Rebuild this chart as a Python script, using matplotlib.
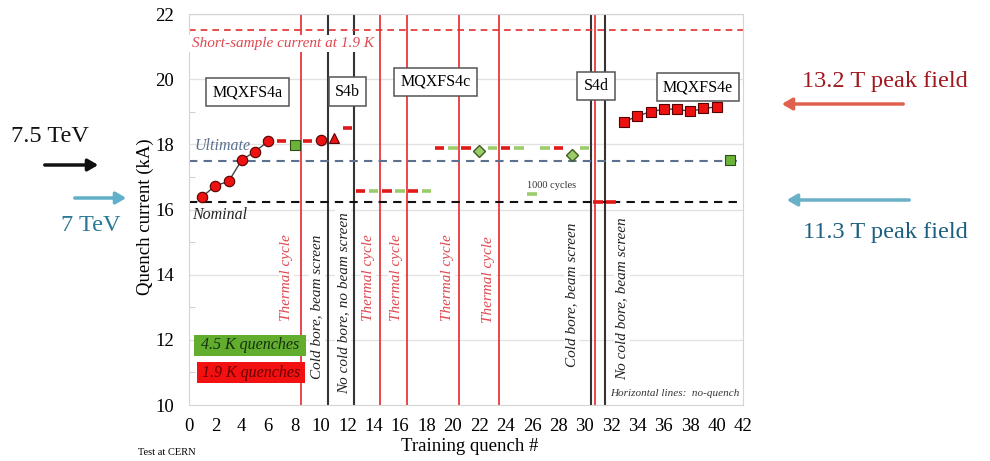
import numpy as np
import matplotlib
matplotlib.use("Agg")
import matplotlib.pyplot as plt
from matplotlib.patches import Rectangle, FancyArrowPatch

plt.rcParams['font.family'] = ['Liberation Serif', 'DejaVu Serif']

################## Data ##################

# MQXFS4a training at 1.9 K (connected circles)
s4a_x = [1, 2, 3, 4, 5, 6]
s4a_y = [16.39, 16.73, 16.86, 17.52, 17.78, 18.09]

# MQXFS4e training at 1.9 K (connected squares)
s4e_x = [33, 34, 35, 36, 37, 38, 39, 40]
s4e_y = [18.69, 18.87, 19.00, 19.08, 19.08, 19.01, 19.10, 19.15]

# single quenches
circ_x, circ_y = [10], [18.13]
tri_x, tri_y = [11], [18.20]
sq45_x, sq45_y = [8, 41], [17.98, 17.52]
dia45_x, dia45_y = [22, 29], [17.80, 17.68]

# no-quench ramps (horizontal dashes)
nq19_x = [7, 9, 12, 13, 15, 17, 19, 21, 24, 28, 31, 32]
nq19_y = [18.09, 18.09, 18.50, 16.56, 16.56, 16.56, 17.88, 17.88, 17.88, 17.88, 16.24, 16.24]
nq45_x = [14, 16, 18, 20, 23, 25, 26, 27, 30]
nq45_y = [16.56, 16.56, 16.56, 17.88, 17.88, 17.88, 16.47, 17.88, 17.88]

# reference currents
short_sample = 21.5
ultimate = 17.5
nominal = 16.23

# events between quenches
thermal_x = [8.5, 14.5, 16.5, 20.5, 23.5, 30.8]
config_x = [10.5, 12.5, 30.5, 31.5]

################## Plot ##################

fig = plt.figure(figsize=(9.9, 4.61), dpi=100)
ax = fig.add_axes([189/990, 56/461, 554/990, 391/461])
ax.set_xlim(0, 42)
ax.set_ylim(10, 22)

RED = '#ee1111'
GREEN = '#6cb33a'
LRED = '#e8383c'

# grid and frame
for y in range(12, 23, 2):
    ax.axhline(y, color='#e2e2e2', lw=1.0, zorder=0)
for s in ax.spines.values():
    s.set_color('#d4d4d4')
ax.set_xticks(np.arange(0, 43, 2))
ax.set_yticks(np.arange(10, 23, 2))
ax.set_yticks(np.arange(11, 22, 2), minor=True)
ax.tick_params(axis='both', which='major', length=0, labelsize=13.5)
ax.tick_params(axis='x', pad=9)
ax.tick_params(axis='y', pad=11)
ax.tick_params(axis='y', which='minor', length=4, color='#c8c8c8', direction='in')

# vertical event lines
for x in thermal_x:
    ax.axvline(x, color=LRED, lw=1.3, zorder=1)
for x in config_x:
    ax.axvline(x, color='#333333', lw=1.5, zorder=1)

# reference lines
ax.axhline(short_sample, color='#e03030', lw=1.2, ls=(0, (4, 3)), zorder=2)
ax.axhline(ultimate, color='#5c7090', lw=1.5, ls=(0, (4, 3)), zorder=2)
ax.axhline(nominal, color='#111111', lw=1.5, ls=(0, (4, 3)), zorder=2)

ax.text(0.2, 21.1, 'Short-sample current at 1.9 K', color='#e04850', style='italic',
        fontsize=11, va='center', ha='left', zorder=3,
        bbox=dict(facecolor='white', edgecolor='none', pad=1.5))
ax.text(0.45, 17.95, 'Ultimate', color='#5c7090', style='italic', fontsize=11.5,
        va='center', ha='left', zorder=3)
ax.text(0.2, 15.83, 'Nominal', color='#222222', style='italic', fontsize=11.5,
        va='center', ha='left', zorder=3)

# no-quench dashes
ax.hlines(nq19_y, np.array(nq19_x) - 0.36, np.array(nq19_x) + 0.36, color='#e01818', lw=2.6, zorder=4)
ax.hlines(nq45_y, np.array(nq45_x) - 0.36, np.array(nq45_x) + 0.36, color='#9ccc6a', lw=2.6, zorder=4)

# quench markers
ax.plot(s4a_x, s4a_y, color='#444444', lw=1.0, marker='o', ms=7.5, mfc=RED, mec='#550000',
        mew=0.8, zorder=5)
ax.plot(s4e_x, s4e_y, color='#444444', lw=1.0, marker='s', ms=7, mfc=RED, mec='#550000',
        mew=0.8, zorder=5)
ax.plot(circ_x, circ_y, ls='none', marker='o', ms=7.5, mfc=RED, mec='#550000', mew=0.8, zorder=5)
ax.plot(tri_x, tri_y, ls='none', marker='^', ms=7.5, mfc=RED, mec='#550000', mew=0.8, zorder=5)
ax.plot(sq45_x, sq45_y, ls='none', marker='s', ms=7, mfc=GREEN, mec='#2d4a18', mew=0.8, zorder=5)
ax.plot(dia45_x, dia45_y, ls='none', marker='D', ms=6, mfc='#9ccc6a', mec='#3d5a22', mew=1.0, zorder=5)

ax.text(25.6, 16.75, '1000 cycles', fontsize=7.5, va='center', ha='left', color='#333333')

# magnet labels
box = dict(facecolor='white', edgecolor='#555555', lw=1.1, boxstyle='square,pad=0.38')
for x, y, s in [(4.44, 19.6, 'MQXFS4a'), (12.04, 19.62, 'S4b'), (18.68, 19.92, 'MQXFS4c'),
                (30.86, 19.8, 'S4d'), (38.6, 19.75, 'MQXFS4e')]:
    ax.text(x, y, s, fontsize=11.5, ha='center', va='center', bbox=box, zorder=6)

# rotated event labels
rot = dict(rotation=90, style='italic', fontsize=11, ha='center', va='center', zorder=3,
           bbox=dict(facecolor='white', edgecolor='none', pad=1))
for x, y in [(7.4, 13.9), (13.6, 13.9), (15.7, 13.9), (19.6, 13.9), (22.7, 13.84)]:
    ax.text(x, y, 'Thermal cycle', color='#e04850', **rot)
ax.text(9.68, 13.0, 'Cold bore, beam screen', color='#222222', **rot)
ax.text(11.7, 13.14, 'No cold bore, no beam screen', color='#222222', **rot)
ax.text(29.0, 13.37, 'Cold bore, beam screen', color='#222222', **rot)
ax.text(32.8, 13.25, 'No cold bore, beam screen', color='#222222', **rot)

ax.text(41.7, 10.36, 'Horizontal lines:  no-quench', style='italic', fontsize=8,
        ha='right', va='center', color='#333333', zorder=3,
        bbox=dict(facecolor='white', edgecolor='none', pad=1))

# temperature key
ax.add_patch(Rectangle((0.38, 11.51), 8.49, 0.64, facecolor='#62ad2e', edgecolor='none', zorder=6))
ax.add_patch(Rectangle((0.58, 10.67), 8.24, 0.64, facecolor='#f21010', edgecolor='none', zorder=6))
ax.text(4.6, 11.83, '4.5 K quenches', style='italic', fontsize=11.5, ha='center', va='center',
        color='#143010', zorder=7)
ax.text(4.7, 10.99, '1.9 K quenches', style='italic', fontsize=11.5, ha='center', va='center',
        color='#6a0000', zorder=7)

# axis titles
fig.text(145/990, 1 - 217/461, 'Quench current (kA)', rotation=90, fontsize=13.5,
         ha='center', va='center')
fig.text(470/990, 1 - 446/461, 'Training quench #', fontsize=13.5, ha='center', va='center')
fig.text(138/990, 1 - 452/461, 'Test at CERN', fontsize=7.5, ha='left', va='center')

# energy / field markers outside the axes
def arrow(x0, x1, y, color):
    fig.add_artist(FancyArrowPatch(
        (x0/990, 1 - y/461), (x1/990, 1 - y/461), transform=fig.transFigure,
        arrowstyle='-|>,head_length=6,head_width=3.5', mutation_scale=1, lw=2.5, color=color))

fig.text(50/990, 1 - 136/461, '7.5 TeV', fontsize=17.5, ha='center', va='center', color='#111111')
arrow(42, 101, 165, '#111111')
arrow(72, 129, 198, '#5fb0c8')
fig.text(91/990, 1 - 225/461, '7 TeV', fontsize=17.5, ha='center', va='center', color='#2a7896')

fig.text(885/990, 1 - 81/461, '13.2 T peak field', fontsize=17.5, ha='center', va='center',
         color='#a01820')
arrow(906, 779, 104, '#e0604e')
arrow(912, 784, 200, '#6ab0c8')
fig.text(885/990, 1 - 232/461, '11.3 T peak field', fontsize=17.5, ha='center', va='center',
         color='#1d5f80')

plt.savefig('out.png', dpi=100)
